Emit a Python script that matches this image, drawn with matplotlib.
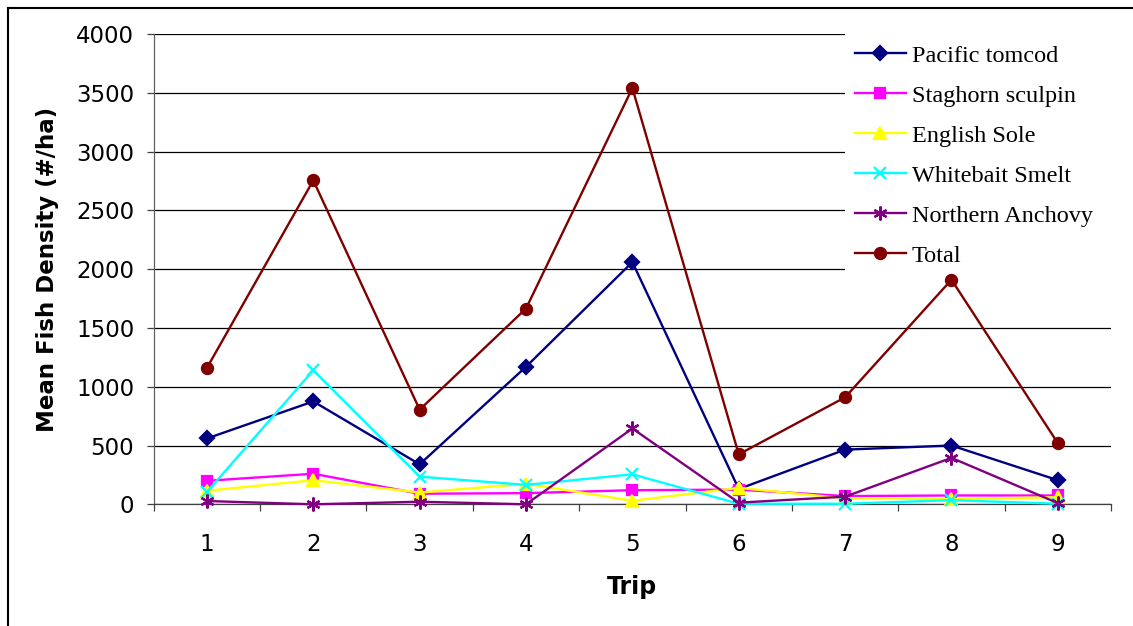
import matplotlib.pyplot as plt
import numpy as np
from matplotlib.lines import Line2D
from matplotlib.patches import Rectangle

# Mean fish density by trip
trips = [1, 2, 3, 4, 5, 6, 7, 8, 9]
tomcod = [560, 875, 340, 1170, 2060, 130, 465, 500, 205]
sculpin = [200, 260, 90, 95, 120, 125, 70, 75, 75]
sole = [115, 205, 100, 175, 30, 140, 50, 45, 60]
smelt = [105, 1140, 235, 165, 255, 5, 5, 35, 5]
anchovy = [28, 0, 22, 0, 645, 14, 65, 395, 10]
total = [1160, 2755, 805, 1665, 3540, 425, 910, 1910, 520]

series = [
    ("Pacific tomcod", tomcod, "#000080", "D", 7),
    ("Staghorn sculpin", sculpin, "#FF00FF", "s", 7),
    ("English Sole", sole, "#FFFF00", "^", 8),
    ("Whitebait Smelt", smelt, "#00FFFF", "x", 9),
    ("Northern Anchovy", anchovy, "#800080", (6, 2, 0), 10),
    ("Total", total, "#800000", "o", 8),
]

W, H = 1133, 626
fig = plt.figure(figsize=(11.33, 6.26), dpi=100)
ax = fig.add_axes([0.1357, 0.1944, 0.8449, 0.7513])

for name, vals, col, mk, ms in series:
    # total drawn above the legend box so the trip 8 point is never hidden
    z = 6 if name == "Total" else 3
    ax.plot(trips, vals, color=col, lw=1.7, marker=mk, ms=ms,
            markerfacecolor=col, markeredgecolor=col, markeredgewidth=1.6,
            label=name, clip_on=False, zorder=z)

ax.set_xlim(0.5, 9.5)
ax.set_ylim(0, 4000)
ax.set_yticks(np.arange(0, 4001, 500))
ax.yaxis.grid(True, color="black", lw=0.9)
ax.set_axisbelow(True)

ax.set_xticks(trips)
ax.set_xticklabels([str(t) for t in trips])
ax.set_xticks(np.arange(0.5, 10, 1), minor=True)
ax.tick_params(axis="x", which="major", length=0, pad=21, labelsize=16.5)
ax.tick_params(axis="x", which="minor", length=5, width=0.9,
               direction="out", color="#404040")
ax.tick_params(axis="y", length=5, width=0.9, direction="out",
               pad=9, labelsize=16.5, color="#404040")

for s in ["top", "right"]:
    ax.spines[s].set_visible(False)
ax.spines["left"].set_color("#606060")
ax.spines["bottom"].set_color("#404040")
ax.spines["left"].set_linewidth(0.9)
ax.spines["bottom"].set_linewidth(0.9)

ax.set_ylabel("Mean Fish Density (#/ha)", fontsize=16.5, fontweight="bold",
              labelpad=12)
ax.set_xlabel("Trip", fontsize=17, fontweight="bold", labelpad=13)

# white panel behind the legend, hiding the gridlines there
ax.add_patch(Rectangle((845 / W, 1 - 277 / H), (1120 - 845) / W, (277 - 28) / H,
                       transform=fig.transFigure, facecolor="white",
                       edgecolor="none", zorder=4.5, clip_on=False))

leg = ax.legend(loc="upper left", bbox_to_anchor=(845 / W, 591 / H),
                bbox_transform=fig.transFigure, borderaxespad=0,
                frameon=False,
                prop={"family": "Liberation Serif", "size": 17.5},
                handlelength=2.1, handletextpad=0.25, labelspacing=0.74,
                borderpad=0.4)
leg.set_zorder(5)

# outer chart border
fig.add_artist(Line2D([8 / W, 8 / W], [0, 618 / H],
                      transform=fig.transFigure, color="black", lw=1.5))
fig.add_artist(Line2D([8 / W, 1], [618 / H, 618 / H],
                      transform=fig.transFigure, color="black", lw=1.5))

fig.savefig("out.png", dpi=100)
